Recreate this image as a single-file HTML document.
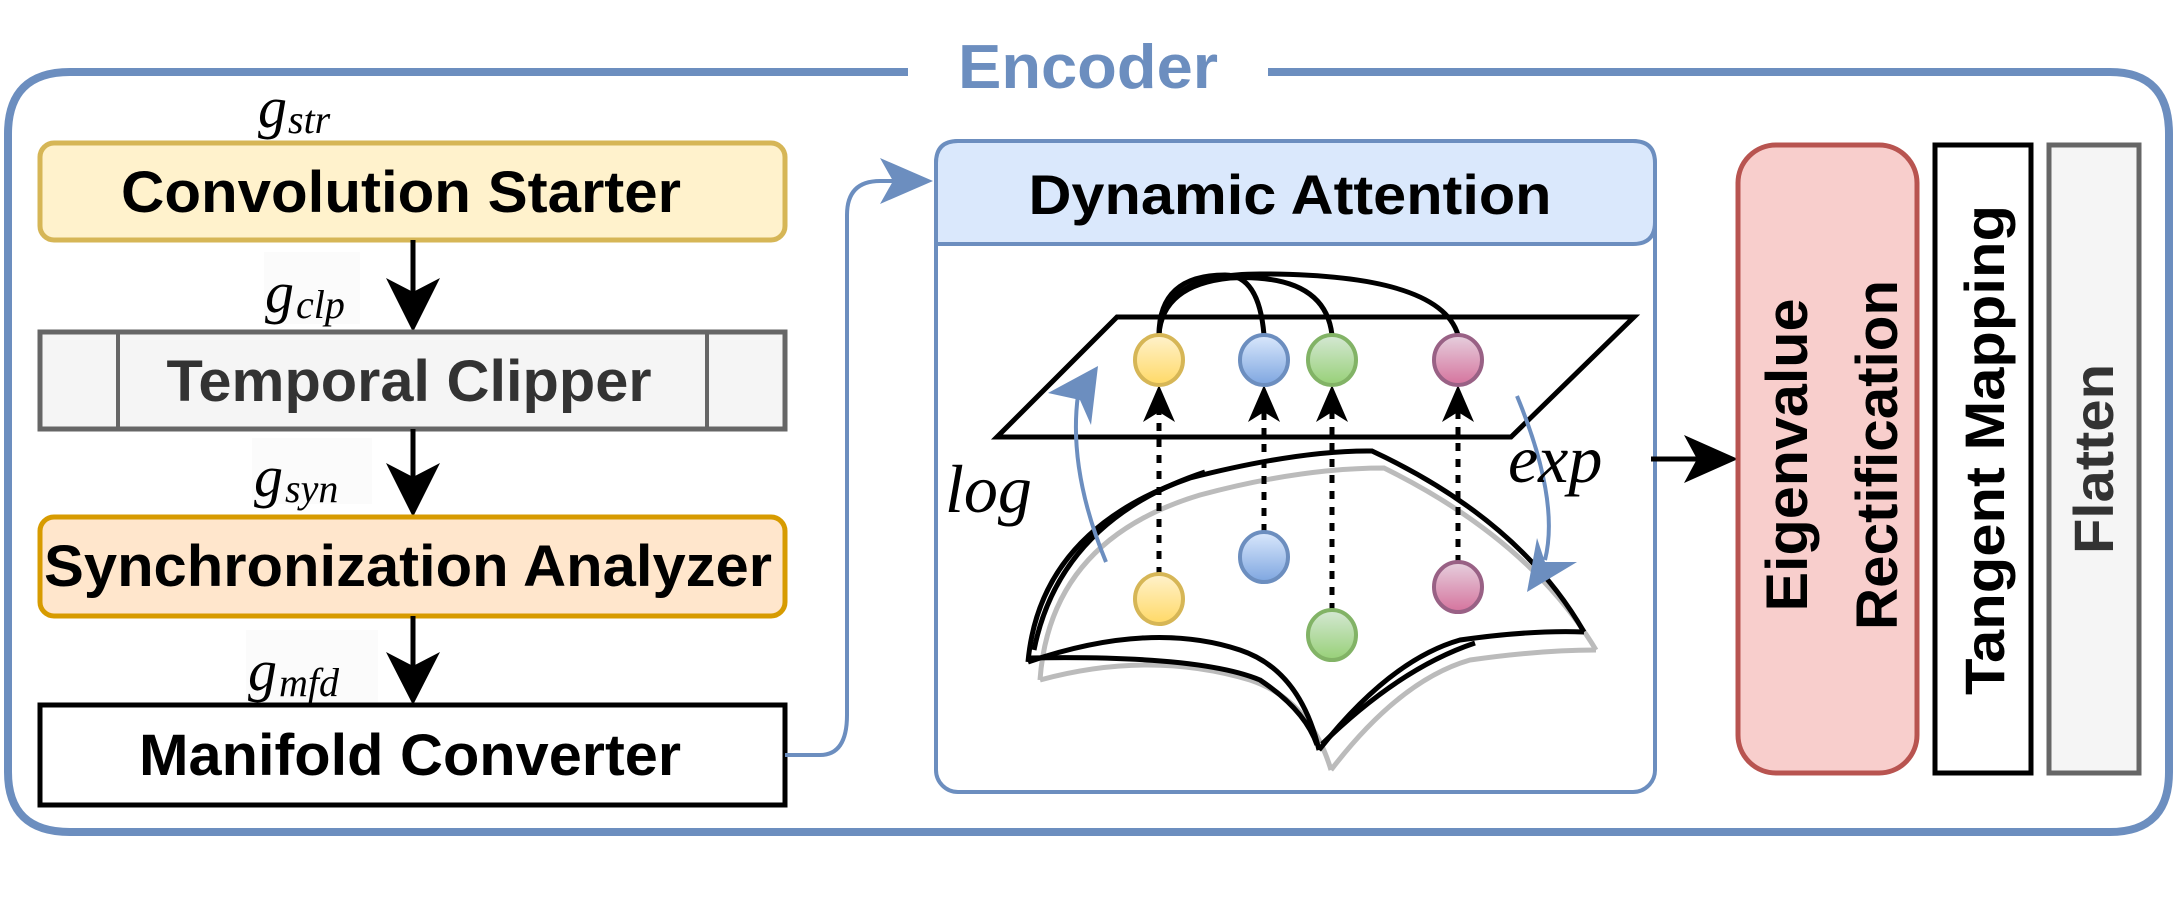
<!DOCTYPE html>
<html><head><meta charset="utf-8"><style>
html,body{margin:0;padding:0;background:#fff;}
svg{display:block;}
.b{font-family:"Liberation Sans",sans-serif;font-weight:bold;}
.m{font-family:"Liberation Serif",serif;font-style:italic;}
</style></head><body>
<svg width="2178" height="900" viewBox="0 0 2178 900" xmlns="http://www.w3.org/2000/svg">
<defs>
<linearGradient id="gy" x1="0" y1="0" x2="0" y2="1"><stop offset="0" stop-color="#fff2cc"/><stop offset="1" stop-color="#ffd966"/></linearGradient>
<linearGradient id="gb" x1="0" y1="0" x2="0" y2="1"><stop offset="0" stop-color="#dae8fc"/><stop offset="1" stop-color="#7ea6e0"/></linearGradient>
<linearGradient id="gg" x1="0" y1="0" x2="0" y2="1"><stop offset="0" stop-color="#d5e8d4"/><stop offset="1" stop-color="#97d077"/></linearGradient>
<linearGradient id="gp" x1="0" y1="0" x2="0" y2="1"><stop offset="0" stop-color="#e6d0de"/><stop offset="1" stop-color="#d5739d"/></linearGradient>
</defs>
<path d="M908 72 H70 Q8 72 8 134 V772 Q8 832 70 832 H2110 Q2169 832 2169 772 V134 Q2169 72 2110 72 H1268" fill="none" stroke="#6c8ebf" stroke-width="8"/>
<text x="1088" y="88" text-anchor="middle" class="b" font-size="62" fill="#6c8ebf" textLength="260" lengthAdjust="spacingAndGlyphs">Encoder</text>

<text x="258" y="127" class="m" font-size="58">g</text><text x="288" y="133" class="m" font-size="40">str</text>
<rect x="40" y="143" width="745" height="97" rx="14" fill="#fff2cc" stroke="#d6b656" stroke-width="5"/>
<text x="401" y="212" text-anchor="middle" class="b" font-size="58" textLength="560" lengthAdjust="spacingAndGlyphs">Convolution Starter</text>

<line x1="413" y1="240" x2="413" y2="300" stroke="#000" stroke-width="5"/>
<path d="M386 278 L413 332 L440 278 L413 292 Z" fill="#000"/>
<rect x="264" y="252" width="96" height="72" fill="#fbfbfb"/>
<text x="265" y="312" class="m" font-size="58">g</text><text x="296" y="318" class="m" font-size="40">clp</text>

<rect x="40" y="332" width="745" height="97" fill="#f5f5f5" stroke="#666" stroke-width="5"/>
<line x1="118" y1="332" x2="118" y2="429" stroke="#666" stroke-width="4"/>
<line x1="707" y1="332" x2="707" y2="429" stroke="#666" stroke-width="4"/>
<text x="409" y="401" text-anchor="middle" class="b" font-size="58" fill="#333" textLength="485" lengthAdjust="spacingAndGlyphs">Temporal Clipper</text>

<line x1="413" y1="429" x2="413" y2="485" stroke="#000" stroke-width="5"/>
<path d="M386 463 L413 517 L440 463 L413 477 Z" fill="#000"/>
<rect x="252" y="438" width="120" height="66" fill="#fbfbfb"/>
<text x="254" y="496" class="m" font-size="58">g</text><text x="285" y="502" class="m" font-size="40">syn</text>

<rect x="40" y="517" width="745" height="99" rx="14" fill="#ffe6cc" stroke="#d79b00" stroke-width="5"/>
<text x="408" y="586" text-anchor="middle" class="b" font-size="58" textLength="728" lengthAdjust="spacingAndGlyphs">Synchronization Analyzer</text>

<line x1="413" y1="616" x2="413" y2="672" stroke="#000" stroke-width="5"/>
<path d="M386 652 L413 705 L440 652 L413 666 Z" fill="#000"/>
<rect x="246" y="630" width="132" height="72" fill="#fbfbfb"/>
<text x="248" y="690" class="m" font-size="58">g</text><text x="279" y="696" class="m" font-size="40">mfd</text>

<rect x="40" y="705" width="745" height="100" fill="#fff" stroke="#000" stroke-width="5"/>
<text x="410" y="775" text-anchor="middle" class="b" font-size="58" textLength="542" lengthAdjust="spacingAndGlyphs">Manifold Converter</text>

<path d="M785 755 H820 Q847 755 847 715 V215 Q847 181 880 181 H905" fill="none" stroke="#6c8ebf" stroke-width="4"/>
<path d="M880 158 L933 181 L880 204 L893 181 Z" fill="#6c8ebf"/>

<rect x="936" y="141" width="719" height="651" rx="22" fill="#fff" stroke="#6c8ebf" stroke-width="4"/>
<path d="M936 244 V163 Q936 141 958 141 H1633 Q1655 141 1655 163 V222 Q1655 244 1633 244 Z" fill="#dae8fc" stroke="#6c8ebf" stroke-width="4"/>
<text x="1290" y="214" text-anchor="middle" class="b" font-size="56" textLength="523" lengthAdjust="spacingAndGlyphs">Dynamic Attention</text>

<path d="M1117 317 L1634 317 L1511 437 L997 437 Z" fill="#fff" stroke="#000" stroke-width="5"/>

<g fill="none" stroke="#bbb" stroke-width="5">
<path d="M1040 680 Q1050 540 1200 495 Q1300 468 1384 468 Q1530 540 1596 650"/>
<path d="M1040 680 Q1150 650 1250 680 Q1310 700 1331 770"/>
<path d="M1331 770 Q1400 680 1470 660 Q1540 650 1596 650"/>
</g>
<g fill="none" stroke="#000" stroke-width="5">
<path d="M1028 662 Q1040 530 1190 478 Q1300 450 1372 451 Q1520 520 1584 632"/>
<path d="M1034 650 Q1060 520 1205 472"/>
<path d="M1028 662 Q1150 620 1240 650 Q1300 670 1319 750"/>
<path d="M1030 658 Q1200 655 1260 680 Q1305 710 1317 745"/>
<path d="M1319 750 Q1390 660 1460 640 Q1530 630 1584 632"/>
<path d="M1322 744 Q1400 668 1475 643"/>
</g>

<g fill="none" stroke="#000" stroke-width="5">
<path d="M1159 335 Q1159 275 1225 275 Q1259 275 1264 335"/>
<path d="M1159 335 Q1162 285 1230 278 Q1325 273 1332 335"/>
<path d="M1159 335 Q1160 274 1260 274 Q1440 274 1458 335"/>
</g>

<g stroke="#000" stroke-width="5" stroke-dasharray="8,8">
<line x1="1159" y1="575" x2="1159" y2="400"/>
<line x1="1264" y1="532" x2="1264" y2="400"/>
<line x1="1332" y1="611" x2="1332" y2="400"/>
<line x1="1458" y1="563" x2="1458" y2="400"/>
</g>
<g fill="#000">
<path d="M1143 422 L1159 385 L1175 422 L1159 412 Z"/>
<path d="M1248 422 L1264 385 L1280 422 L1264 412 Z"/>
<path d="M1316 422 L1332 385 L1348 422 L1332 412 Z"/>
<path d="M1442 422 L1458 385 L1474 422 L1458 412 Z"/>
</g>

<g stroke-width="4">
<ellipse cx="1159" cy="360" rx="24" ry="25" fill="url(#gy)" stroke="#d6b656"/>
<ellipse cx="1264" cy="360" rx="24" ry="25" fill="url(#gb)" stroke="#6c8ebf"/>
<ellipse cx="1332" cy="360" rx="24" ry="25" fill="url(#gg)" stroke="#82b366"/>
<ellipse cx="1458" cy="360" rx="24" ry="25" fill="url(#gp)" stroke="#996185"/>
<ellipse cx="1159" cy="599" rx="24" ry="25" fill="url(#gy)" stroke="#d6b656"/>
<ellipse cx="1264" cy="557" rx="24" ry="25" fill="url(#gb)" stroke="#6c8ebf"/>
<ellipse cx="1332" cy="635" rx="24" ry="25" fill="url(#gg)" stroke="#82b366"/>
<ellipse cx="1458" cy="587" rx="24" ry="25" fill="url(#gp)" stroke="#996185"/>
</g>

<path d="M1106 562 Q1068 470 1078 395" fill="none" stroke="#6c8ebf" stroke-width="4"/>
<path d="M1098 366 L1091 425 L1080 400 L1048 393 Z" fill="#6c8ebf"/>
<path d="M1517 396 Q1560 500 1545 560" fill="none" stroke="#6c8ebf" stroke-width="4"/>
<path d="M1527 592 L1537 538 L1545 562 L1577 562 Z" fill="#6c8ebf"/>
<text x="945" y="512" class="m" font-size="68">log</text>
<text x="1508" y="482" class="m" font-size="68">exp</text>

<line x1="1651" y1="459" x2="1710" y2="459" stroke="#000" stroke-width="5"/>
<path d="M1684 435 L1738 459 L1684 483 L1697 459 Z" fill="#000"/>

<rect x="1738" y="145" width="179" height="628" rx="38" fill="#f8cecc" stroke="#b85450" stroke-width="5"/>
<text transform="translate(1807,455) rotate(-90)" text-anchor="middle" class="b" font-size="58" textLength="313" lengthAdjust="spacingAndGlyphs">Eigenvalue</text>
<text transform="translate(1897,455) rotate(-90)" text-anchor="middle" class="b" font-size="58" textLength="350" lengthAdjust="spacingAndGlyphs">Rectification</text>
<rect x="1935" y="145" width="96" height="628" fill="#fff" stroke="#000" stroke-width="5"/>
<text transform="translate(2004,450) rotate(-90)" text-anchor="middle" class="b" font-size="56" textLength="490" lengthAdjust="spacingAndGlyphs">Tangent Mapping</text>
<rect x="2049" y="145" width="90" height="628" fill="#f5f5f5" stroke="#666" stroke-width="5"/>
<text transform="translate(2113,459) rotate(-90)" text-anchor="middle" class="b" font-size="56" fill="#333" textLength="190" lengthAdjust="spacingAndGlyphs">Flatten</text>
</svg>
</body></html>
